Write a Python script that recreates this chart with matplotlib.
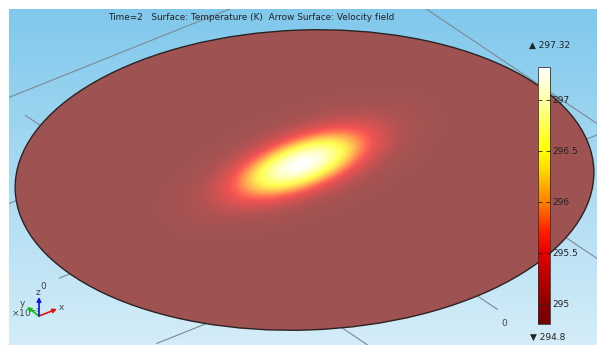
import numpy as np
import matplotlib
matplotlib.use("Agg")
import matplotlib.pyplot as plt
from matplotlib.colors import LinearSegmentedColormap, Normalize
from matplotlib.cm import ScalarMappable
from matplotlib.patches import Ellipse

# temperature range of the surface plot (K)
t_min = 294.8
t_max = 297.32
cbar_ticks = [295, 295.5, 296, 296.5, 297]
cbar_labels = ["295", "295.5", "296", "296.5", "297"]

# hot spot on the plate (pixels): centre, spread along/across, tilt
spot_center = (301, 164)
spot_sigma = (48, 18)
spot_angle = 20

# plate outline as seen by the camera (tilt in degrees, y axis points down)
plate_center = (304.5, 180)
plate_size = (579, 300)
plate_tilt = -2

# floor grid in plate coordinates: (value, start, end)
grid_u = [(-0.5, -1.09, 0.93), (0.0, -1.09, 0.93), (0.48, -1.09, 0.86), (1.03, -0.6, 1.5)]
grid_v = [(1.06, -1.6, 0.75), (0.5, -1.6, 0.8), (0.0, -1.07, 0.8),
          (-0.55, -1.07, 0.5), (-0.38, 0.5, 1.3)]
# projected plate axes
e1 = np.array([229.0, -91.7])
e2 = np.array([-177.0, -118.7])

title = "Time=2   Surface: Temperature (K)  Arrow Surface: Velocity field"

thermal = LinearSegmentedColormap.from_list("thermal_light", [
    (0.0, (0.45, 0.0, 0.0)), (0.08, (0.55, 0.0, 0.0)), (0.28, (0.90, 0.0, 0.0)),
    (0.36, (1.0, 0.12, 0.0)), (0.476, (1.0, 0.5, 0.0)), (0.6, (1.0, 0.85, 0.0)),
    (0.675, (1.0, 1.0, 0.0)), (0.873, (1.0, 1.0, 0.65)), (1.0, (1.0, 1.0, 1.0))])
sky = LinearSegmentedColormap.from_list("sky", ["#80c8ec", "#d4edf8"])
norm = Normalize(t_min, t_max)

fig = plt.figure(figsize=(5.97, 3.45), dpi=100)
ax = fig.add_axes([9 / 597, 0, 588 / 597, 336 / 345])
ax.set_xlim(9, 597)
ax.set_ylim(345, 9)
ax.axis("off")

# background gradient
grad = np.linspace(0, 1, 256)[:, None]
ax.imshow(grad, extent=(9, 597, 345, 9), cmap=sky, aspect="auto", zorder=0)

# grid lines
c = np.array(plate_center)
for val, s, e in grid_u:
    p0 = c + val * e1 + s * e2
    p1 = c + val * e1 + e * e2
    ax.plot([p0[0], p1[0]], [p0[1], p1[1]], color="#7d8a94", lw=0.8, zorder=1)
for val, s, e in grid_v:
    p0 = c + s * e1 + val * e2
    p1 = c + e * e1 + val * e2
    ax.plot([p0[0], p1[0]], [p0[1], p1[1]], color="#7d8a94", lw=0.8, zorder=1)

# plate with temperature field
plate = Ellipse(plate_center, *plate_size, angle=plate_tilt, facecolor="white",
                edgecolor="none", zorder=2)
ax.add_patch(plate)

xs = np.arange(9, 597) + 0.5
ys = np.arange(9, 345) + 0.5
X, Y = np.meshgrid(xs, ys)
a = np.deg2rad(spot_angle)
dx = X - spot_center[0]
dy = Y - spot_center[1]
along = dx * np.cos(a) - dy * np.sin(a)
across = dx * np.sin(a) + dy * np.cos(a)
T = t_min + (t_max - t_min) * np.exp(-0.5 * (along / spot_sigma[0]) ** 2
                                     - 0.5 * (across / spot_sigma[1]) ** 2)
im = ax.imshow(T, extent=(9, 597, 345, 9), cmap=thermal, norm=norm, alpha=0.68,
               interpolation="bilinear", aspect="auto", zorder=3)
im.set_clip_path(plate)
ax.add_patch(Ellipse(plate_center, *plate_size, angle=plate_tilt, fill=False,
                     edgecolor="#2b2222", lw=1.0, zorder=4))

ax.text(108, 17, title, ha="left", va="center", fontsize=6.4, color="#222222", zorder=6)

# grid labels
ax.text(43, 286, "0", ha="center", va="center", fontsize=6.5, color="#444444", zorder=5)
ax.text(504, 323, "0", ha="center", va="center", fontsize=6.5, color="#444444", zorder=5)
ax.text(11, 313, "×10$^{-3}$", ha="left", va="center", fontsize=6.5, color="#444444", zorder=5)

# axis triad
origin = (39, 316)
for tip, col, lab, lpos in [((57, 309), "#e01010", "x", (61, 307)),
                            ((27, 307), "#10c010", "y", (22, 303)),
                            ((39, 297), "#1010e0", "z", (38, 292))]:
    ax.annotate("", xy=tip, xytext=origin, zorder=6,
                arrowprops=dict(arrowstyle="-|>", color=col, lw=1.2, mutation_scale=6,
                                shrinkA=0, shrinkB=0))
    ax.text(*lpos, lab, ha="center", va="center", fontsize=6.5, color="#444444", zorder=6)

# colour legend
cax = fig.add_axes([538 / 597, (345 - 324) / 345, 12 / 597, 257 / 345])
cb = fig.colorbar(ScalarMappable(norm=norm, cmap=thermal), cax=cax, ticks=cbar_ticks)
cb.set_ticklabels(cbar_labels)
cb.outline.set_linewidth(0.6)
cb.outline.set_edgecolor("#333333")
cax.tick_params(direction="in", length=3, width=0.6, colors="#222222", labelsize=6.5,
                pad=2, left=True, right=True)
ax.text(550, 45, "▲ 297.32", ha="center", va="center", fontsize=6.5, color="#222222", zorder=6)
ax.text(548, 337, "▼ 294.8", ha="center", va="center", fontsize=6.5, color="#222222", zorder=6)

fig.savefig("out.png", dpi=100)
